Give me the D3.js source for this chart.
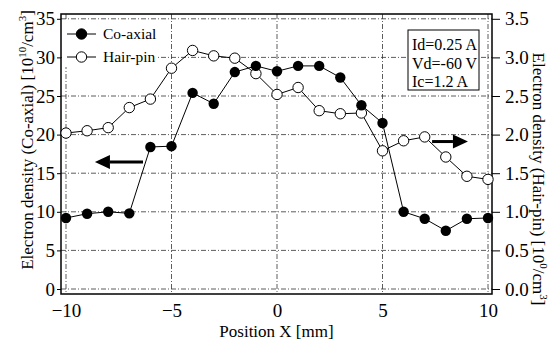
<!DOCTYPE html>
<html>
<head>
<meta charset="utf-8">
<script src="https://cdn.jsdelivr.net/npm/d3@7"></script>
<style>
  body { margin: 0; background: #fff; }
  text { font-family: "Liberation Serif", "Times New Roman", serif; fill: #000; }
</style>
</head>
<body>
<script>
// positions in mm
const positions = [-10, -9, -8, -7, -6, -5, -4, -3, -2, -1, 0, 1, 2, 3, 4, 5, 6, 7, 8, 9, 10];
// left axis, 10^10 /cm^3
const coaxial = [9.2, 9.75, 10.0, 9.8, 18.4, 18.5, 25.4, 24.0, 28.1, 28.9, 28.2, 28.9, 28.9, 27.4, 23.8, 21.5, 10.0, 9.1, 7.55, 9.1, 9.2];
// right axis
const hairpin = [2.02, 2.05, 2.09, 2.35, 2.46, 2.86, 3.09, 3.02, 2.99, 2.79, 2.52, 2.61, 2.31, 2.27, 2.28, 1.79, 1.92, 1.97, 1.71, 1.46, 1.42];

const xTicks = [-10, -5, 0, 5, 10];
const yLeftTicks = [0, 5, 10, 15, 20, 25, 30, 35];
const yRightTicks = [0, 0.5, 1.0, 1.5, 2.0, 2.5, 3.0, 3.5];
const conditions = ["Id=0.25 A", "Vd=-60 V", "Ic=1.2 A"];

const W = 558, H = 345;
const plot = { left: 61, right: 492, top: 14, bottom: 294 };

const svg = d3.select('body')
    .append('svg')
    .attr("width", W)
    .attr("height", H);

const x = d3.scaleLinear().domain([-10, 10]).range([66, 488]);
const yL = d3.scaleLinear().domain([0, 35]).range([289, 18.8]);
const yR = d3.scaleLinear().domain([0, 3.5]).range([289, 18.8]);

// grid
const grid = svg.append('g')
    .attr("stroke", "#333")
    .attr("stroke-width", 0.8)
    .attr("stroke-dasharray", "5,2,1,2");
grid.selectAll(".vgrid").data(xTicks).enter().append("line")
    .attr("x1", d => x(d)).attr("x2", d => x(d))
    .attr("y1", plot.top).attr("y2", plot.bottom);
grid.selectAll(".hgrid").data(yLeftTicks).enter().append("line")
    .attr("x1", plot.left).attr("x2", plot.right)
    .attr("y1", d => yL(d)).attr("y2", d => yL(d));

// axes
const xAxis = svg.append('g')
    .attr("transform", `translate(0,${plot.bottom})`)
    .call(d3.axisBottom(x).tickValues(xTicks).tickSize(0).tickPadding(10).tickFormat(d3.format("d")));
const lAxis = svg.append('g')
    .attr("transform", `translate(${plot.left},0)`)
    .call(d3.axisLeft(yL).tickValues(yLeftTicks).tickSize(4).tickPadding(2).tickFormat(d3.format("d")));
const rAxis = svg.append('g')
    .attr("transform", `translate(${plot.right},0)`)
    .call(d3.axisRight(yR).tickValues(yRightTicks).tickSize(8).tickPadding(5).tickFormat(d3.format(".1f")));
[xAxis, lAxis, rAxis].forEach(a => {
    a.select(".domain").remove();
    a.selectAll("text").attr("font-size", 19).attr("font-family", "Liberation Serif");
    a.selectAll("line").attr("stroke", "#000");
});

// frame
svg.append("rect")
    .attr("x", plot.left).attr("y", plot.top)
    .attr("width", plot.right - plot.left).attr("height", plot.bottom - plot.top)
    .attr("fill", "none").attr("stroke", "#000").attr("stroke-width", 1.5);

// series
const coData = positions.map((p, i) => ({ x: p, y: coaxial[i] }));
const hpData = positions.map((p, i) => ({ x: p, y: hairpin[i] }));

svg.append("path").datum(hpData)
    .attr("fill", "none").attr("stroke", "#000").attr("stroke-width", 1)
    .attr("d", d3.line().x(d => x(d.x)).y(d => yR(d.y)));
svg.append("path").datum(coData)
    .attr("fill", "none").attr("stroke", "#000").attr("stroke-width", 1)
    .attr("d", d3.line().x(d => x(d.x)).y(d => yL(d.y)));

svg.selectAll(".hp").data(hpData).enter().append("circle")
    .attr("cx", d => x(d.x)).attr("cy", d => yR(d.y)).attr("r", 5.2)
    .attr("fill", "#fff").attr("stroke", "#000").attr("stroke-width", 1);
svg.selectAll(".co").data(coData).enter().append("circle")
    .attr("cx", d => x(d.x)).attr("cy", d => yL(d.y)).attr("r", 5.2)
    .attr("fill", "#000");

// legend
const leg = svg.append("g");
leg.append("rect").attr("x", 62).attr("y", 21).attr("width", 94).attr("height", 46).attr("fill", "#fff");
const legItems = [{ name: "Co-axial", fill: "#000", y: 34 }, { name: "Hair-pin", fill: "#fff", y: 57 }];
legItems.forEach(it => {
    leg.append("line").attr("x1", 67).attr("x2", 96).attr("y1", it.y).attr("y2", it.y)
        .attr("stroke", "#000").attr("stroke-width", 1);
    leg.append("circle").attr("cx", 81.5).attr("cy", it.y).attr("r", 5.2)
        .attr("fill", it.fill).attr("stroke", "#000");
    leg.append("text").attr("x", 103).attr("y", it.y + 5).attr("font-size", 15.5).text(it.name);
});

// conditions box
const box = svg.append("g");
box.append("rect").attr("x", 408).attr("y", 30).attr("width", 71).attr("height", 60)
    .attr("fill", "#fff").attr("stroke", "#000").attr("stroke-width", 1);
box.selectAll("text").data(conditions).enter().append("text")
    .attr("x", 412).attr("y", (d, i) => 50 + i * 18.5)
    .attr("font-size", 16).text(d => d);

// arrows
function arrow(x0, x1, yy, dir) {
    const head = 15, hw = 7;
    const tip = dir < 0 ? x0 : x1;
    const base = tip - dir * head;
    const tail = dir < 0 ? x1 : x0;
    svg.append("line").attr("x1", tail).attr("x2", base).attr("y1", yy).attr("y2", yy)
        .attr("stroke", "#000").attr("stroke-width", 3);
    svg.append("path")
        .attr("d", `M${tip},${yy}L${base},${yy - hw}L${base},${yy + hw}Z`)
        .attr("fill", "#000");
}
arrow(x(-8.63), x(-6.35), yL(16.45), -1);
arrow(x(7.35), x(9.05), yL(19.1), 1);

// axis titles
svg.append("text")
    .attr("x", (plot.left + plot.right) / 2).attr("y", 337)
    .attr("text-anchor", "middle").attr("font-size", 17)
    .text("Position X [mm]");

const lt = svg.append("text")
    .attr("transform", "translate(33,140) rotate(-90)")
    .attr("text-anchor", "middle").attr("font-size", 17);
lt.append("tspan").text("Electron density (Co-axial) [10");
lt.append("tspan").attr("dy", -7).attr("font-size", 11).text("10");
lt.append("tspan").attr("dy", 7).text("/cm");
lt.append("tspan").attr("dy", -7).attr("font-size", 11).text("3");
lt.append("tspan").attr("dy", 7).text("]");

const rt = svg.append("text")
    .attr("transform", "translate(533,179) rotate(90)")
    .attr("text-anchor", "middle").attr("font-size", 17);
rt.append("tspan").text("Electron density (Hair-pin) [10");
rt.append("tspan").attr("dy", -7).attr("font-size", 11).text("0");
rt.append("tspan").attr("dy", 7).text("/cm");
rt.append("tspan").attr("dy", -7).attr("font-size", 11).text("3");
rt.append("tspan").attr("dy", 7).text("]");
</script>
</body>
</html>
